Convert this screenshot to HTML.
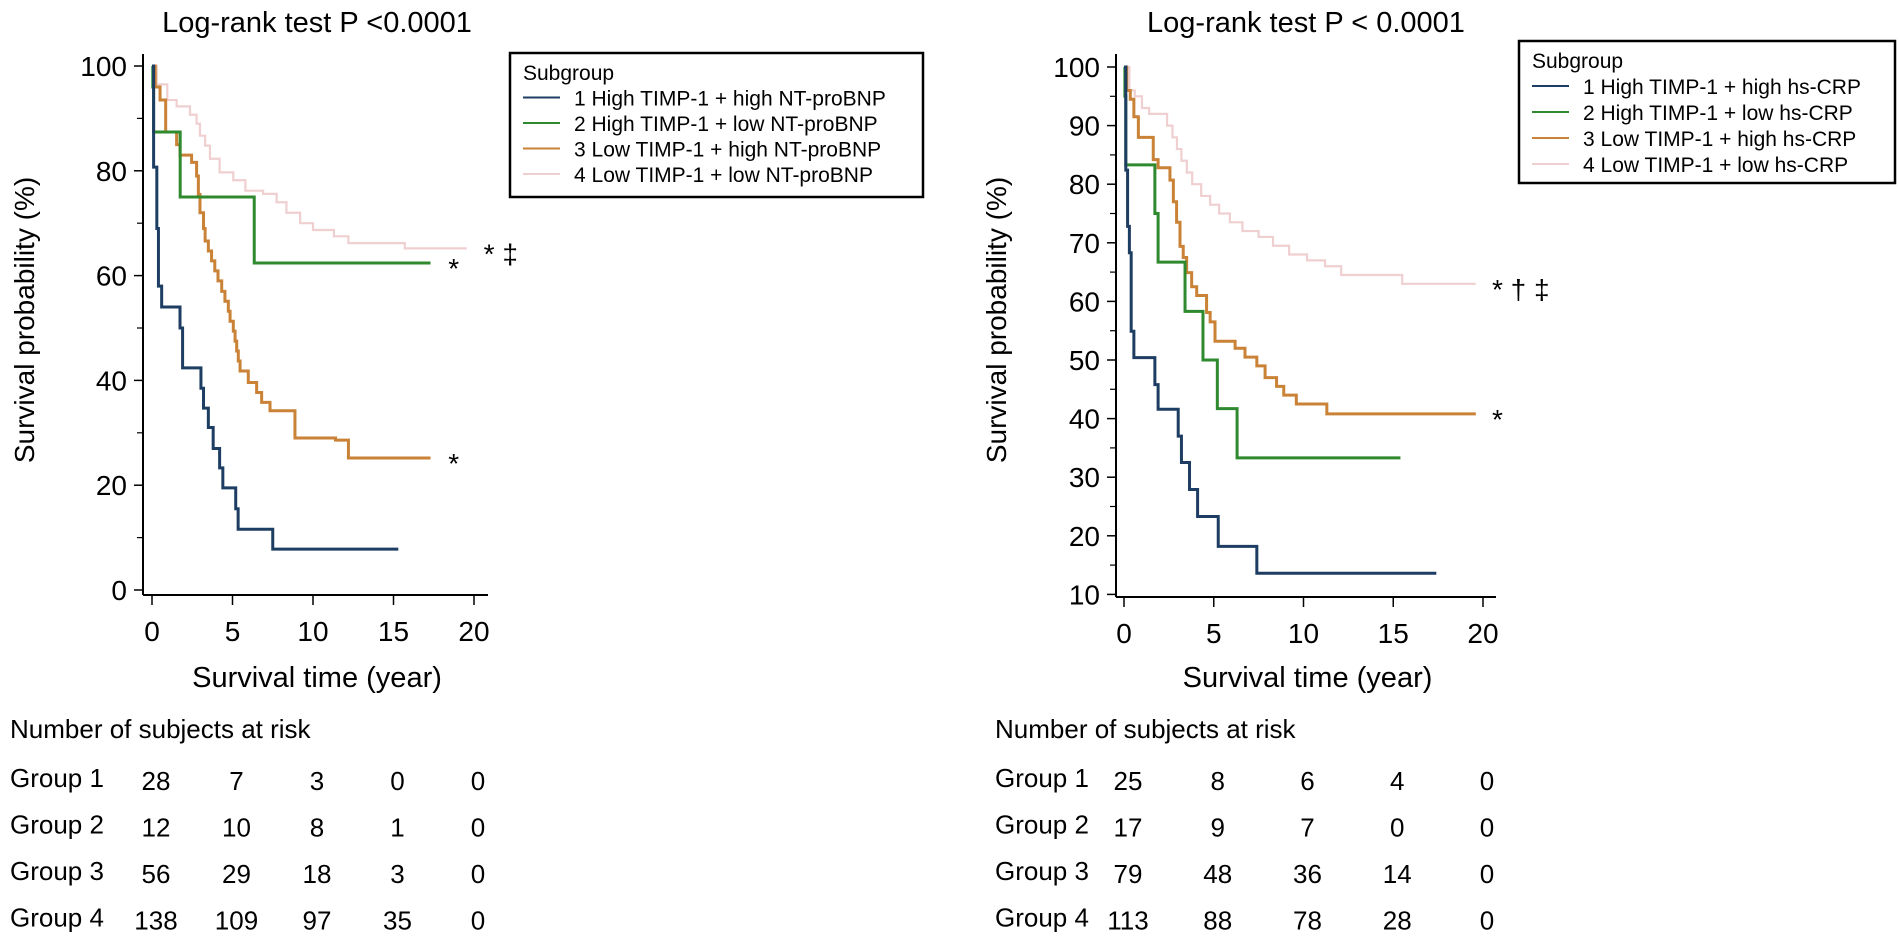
<!DOCTYPE html>
<html><head><meta charset="utf-8">
<style>
html,body{margin:0;padding:0;background:#fff;}
svg{display:block;font-family:"Liberation Sans",Arial,sans-serif;}
</style></head>
<body>
<svg id="fig" width="1900" height="940" viewBox="0 0 1900 940" xmlns="http://www.w3.org/2000/svg">
<g id="left"></g>
<g id="right"></g>
</svg>
<script>
// ---------- LEFT PANEL DATA ----------
const leftYTicks = [0,20,40,60,80,100];
const leftYMinor = [10,30,50,70,90];
const xTicks = [0,5,10,15,20];
const L1t = [0,0.1,0.3,0.4,0.6,1.74,1.9,3.04,3.2,3.5,3.8,4.2,4.4,5.2,5.35,7.5];
const L1v = [100,80.7,69,58,54,50,42.4,38.5,34.7,31,27,23.3,19.5,15.5,11.6,7.8];
const L1end = 15.3;
const L2t = [0,0.05,0.1,1.75,6.35];
const L2v = [100,96,87.4,75,62.4];
const L2end = 17.3;
const L3t = [0,0.2,0.5,0.85,1.53,1.74,2.46,2.77,2.88,2.98,3.2,3.3,3.5,3.7,3.9,4.1,4.33,4.53,4.74,4.85,5.05,5.16,5.26,5.36,5.47,5.98,6.5,6.81,7.33,8.88,11.4,12.2];
const L3v = [100,96,93.5,87.4,85,83,81.6,79,75.5,72,69,66.6,64.7,62.8,60.9,59,57,55.1,53.2,51.3,49.4,47.5,45.6,43.7,41.8,39.6,37.7,35.8,34.2,29,28.6,25.2];
const L3end = 17.3;
const L4t = [0,0.3,0.95,1.53,2.36,2.77,2.98,3.3,3.6,4.2,5.05,5.8,6.9,7.74,8.35,9.2,10,11.3,12.2,15.7];
const L4v = [100,96.5,93.5,92.3,90.7,89,86.7,84.8,82.3,79.7,78.2,76.2,75.6,74,72,70,68.7,67.5,66.2,65.2];
const L4end = 19.55;
const leftLegend = ["1 High TIMP-1 + high NT-proBNP","2 High TIMP-1 + low NT-proBNP","3 Low TIMP-1 + high NT-proBNP","4 Low TIMP-1 + low NT-proBNP"];
const leftRisk = [[28,7,3,0,0],[12,10,8,1,0],[56,29,18,3,0],[138,109,97,35,0]];
const leftMarks = [{t:18.4,v:62.4,s:"*"},{t:18.4,v:25.2,s:"*"},{t:20.6,v:65.2,s:"* \u2021"}];

// ---------- RIGHT PANEL DATA ----------
const rightYTicks = [10,20,30,40,50,60,70,80,90,100];
const rightYMinor = [15,25,35,45,55,65,75,85,95];
const R1t = [0,0.1,0.2,0.3,0.4,0.55,1.72,1.9,3.02,3.2,3.65,4.1,5.25,7.4];
const R1v = [100,82.4,72.8,68.3,54.9,50.4,45.8,41.6,37,32.5,27.9,23.3,18.2,13.6];
const R1end = 17.4;
const R2t = [0,0.05,0.1,1.72,1.9,3.4,4.4,5.2,6.3];
const R2v = [100,95,83.3,75,66.7,58.3,50,41.7,33.3];
const R2end = 15.4;
const R3t = [0,0.15,0.35,0.55,0.8,1.63,1.9,2.56,2.75,2.93,3.12,3.3,3.49,3.77,4.05,4.6,4.8,5.07,6.19,6.74,7.4,7.86,8.5,8.9,9.6,11.3];
const R3v = [100,96,94.5,91.5,88,84.2,82.8,80.7,77,73.5,69.4,67.5,64.9,62.5,61,58.1,56.5,53.2,52,50.5,49,47,45.5,44,42.5,40.8];
const R3end = 19.6;
const R4t = [0,0.3,0.6,1.0,1.4,2.4,2.7,2.95,3.2,3.5,3.8,4.3,4.8,5.3,5.9,6.6,7.5,8.3,9.2,10.2,11.2,12.1,15.5];
const R4v = [100,96,95,93,92,90,88,86,84,82,80,78,76.5,75,73.5,72,71,69.5,68,67,66,64.5,63];
const R4end = 19.6;
const rightLegend = ["1 High TIMP-1 + high hs-CRP","2 High TIMP-1 + low hs-CRP","3 Low TIMP-1 + high hs-CRP","4 Low TIMP-1 + low hs-CRP"];
const rightRisk = [[25,8,6,4,0],[17,9,7,0,0],[79,48,36,14,0],[113,88,78,28,0]];
const rightMarks = [{t:20.5,v:40.8,s:"*"},{t:20.5,v:63,s:"* \u2020 \u2021"}];

const colors = ["#1d3d63","#2f8a2f","#c98236","#efcfd0"];
const widths = [3,3,3,2.2];
const NS = "http://www.w3.org/2000/svg";

function mk(parent, tag, attrs, text){
  const e = document.createElementNS(NS, tag);
  for (const k in attrs) e.setAttribute(k, attrs[k]);
  if (text !== undefined) e.textContent = text;
  parent.appendChild(e);
  return e;
}

function stepPath(ts, vs, end, X, Y){
  let d = "M" + X(ts[0]) + "," + Y(vs[0]);
  for (let i = 1; i < ts.length; i++){
    d += " H" + X(ts[i]) + " V" + Y(vs[i]);
  }
  d += " H" + X(end);
  return d;
}

function panel(g, cfg){
  const X = t => cfg.x0 + t * cfg.xs;
  const Y = v => cfg.yTop + (cfg.yMax - v) * cfg.ys;
  const tt = mk(g, "text", {x: cfg.titleX, y: 32, "font-size": 29, "text-anchor": "middle", fill: "#000"}, cfg.title);
  
  
  const ya = mk(g, "line", {x1: cfg.ax, y1: 54, x2: cfg.ax, y2: cfg.axY, stroke: "#000", "stroke-width": 2});
  
  
  const xa = mk(g, "line", {x1: cfg.ax, y1: cfg.axY, x2: cfg.axEnd, y2: cfg.axY, stroke: "#000", "stroke-width": 2});
  
  
  cfg.yTicks.forEach(v => {
    const l = mk(g, "line", {x1: cfg.ax - 9, y1: Y(v), x2: cfg.ax, y2: Y(v), stroke: "#000", "stroke-width": 1.5});
    
    
    const t = mk(g, "text", {x: cfg.ax - 16, y: Y(v) + 10, "font-size": 28, "text-anchor": "end", fill: "#000"}, String(v));
    
    
  });
  cfg.yMinor.forEach(v => {
    const l = mk(g, "line", {x1: cfg.ax - 6, y1: Y(v), x2: cfg.ax, y2: Y(v), stroke: "#000", "stroke-width": 1.2});
    
    
  });
  xTicks.forEach(v => {
    const l = mk(g, "line", {x1: X(v), y1: cfg.axY, x2: X(v), y2: cfg.axY + 10, stroke: "#000", "stroke-width": 1.5});
    
    
    const t = mk(g, "text", {x: X(v), y: cfg.axY + 46, "font-size": 28, "text-anchor": "middle", fill: "#000"}, String(v));
    
    
  });
  const xt = mk(g, "text", {x: X(10) + 4, y: 687, "font-size": 29, "text-anchor": "middle", fill: "#000"}, "Survival time (year)");
  
  
  const ytl = mk(g, "text", {x: 0, y: 0, "font-size": 28, "text-anchor": "middle", fill: "#000", transform: "translate(" + cfg.ytX + "," + cfg.ytY + ") rotate(-90)"}, "Survival probability (%)");
  
  
  [3,2,1,0].forEach(i => {
    const s = cfg.series[i];
    const p = mk(g, "path", {d: stepPath(s.t, s.v, s.end, X, Y), fill: "none", stroke: colors[i], "stroke-width": widths[i], "stroke-linejoin": "miter"});
    
    
  });
  cfg.marks.forEach(m => {
    const t = mk(g, "text", {x: X(m.t), y: Y(m.v) + 15, "font-size": 28, fill: "#000"}, m.s);
    
    
  });
  const lg = mk(g, "g", {});
  
  
  const L = cfg.leg;
  const box = mk(lg, "rect", {x: L.x, y: L.y, width: L.w, height: L.h, fill: "#fff", stroke: "#000", "stroke-width": 2.5});
  
  
  const st = mk(lg, "text", {x: L.x + 13, y: L.b0, "font-size": 21, fill: "#000"}, "Subgroup");
  
  
  cfg.legend.forEach((txt, i) => {
    const by = L.b0 + L.sp * (i + 1);
    const ln = mk(lg, "line", {x1: L.x + 13, y1: by - 8, x2: L.x + 50, y2: by - 8, stroke: colors[i], "stroke-width": 2});
    
    
    const t = mk(lg, "text", {x: L.x + 64, y: by, "font-size": 21, fill: "#000"}, txt);
    
    
  });
  const rt = mk(g, "g", {});
  
  
  const h = mk(rt, "text", {x: cfg.tabX, y: 738, "font-size": 26, fill: "#000"}, "Number of subjects at risk");
  
  
  cfg.risk.forEach((row, r) => {
    const y = 787 + r * 46.5;
    const gl = mk(rt, "text", {x: cfg.tabX, y: y, "font-size": 26, fill: "#000"}, "Group " + (r + 1));
    
    
    row.forEach((n, c) => {
      const t = mk(rt, "text", {x: X(xTicks[c]) + cfg.colOff, y: y + 3, "font-size": 26, "text-anchor": "middle", fill: "#000"}, String(n));
      
      
    });
  });
}

panel(document.getElementById("left"), {
  title: "Log-rank test P <0.0001", titleX: 317,
  ax: 143, axY: 595, axEnd: 488, x0: 152, xs: 16.1,
  yTop: 66, yMax: 100, ys: 5.24,
  yTicks: leftYTicks, yMinor: leftYMinor,
  ytX: 34, ytY: 320,
  series: [{t:L1t,v:L1v,end:L1end},{t:L2t,v:L2v,end:L2end},{t:L3t,v:L3v,end:L3end},{t:L4t,v:L4v,end:L4end}],
  marks: leftMarks, legend: leftLegend,
  leg: {x: 510, y: 53, w: 413, h: 144, b0: 80, sp: 25.5},
  risk: leftRisk, tabX: 10, colOff: 4
});
panel(document.getElementById("right"), {
  title: "Log-rank test P < 0.0001", titleX: 1306,
  ax: 1116, axY: 597, axEnd: 1496, x0: 1124, xs: 17.95,
  yTop: 67, yMax: 100, ys: 5.86,
  yTicks: rightYTicks, yMinor: rightYMinor,
  ytX: 1006, ytY: 320,
  series: [{t:R1t,v:R1v,end:R1end},{t:R2t,v:R2v,end:R2end},{t:R3t,v:R3v,end:R3end},{t:R4t,v:R4v,end:R4end}],
  marks: rightMarks, legend: rightLegend,
  leg: {x: 1519, y: 41, w: 376, h: 142, b0: 68, sp: 26},
  risk: rightRisk, tabX: 995, colOff: 4
});
</script>
</body></html>
